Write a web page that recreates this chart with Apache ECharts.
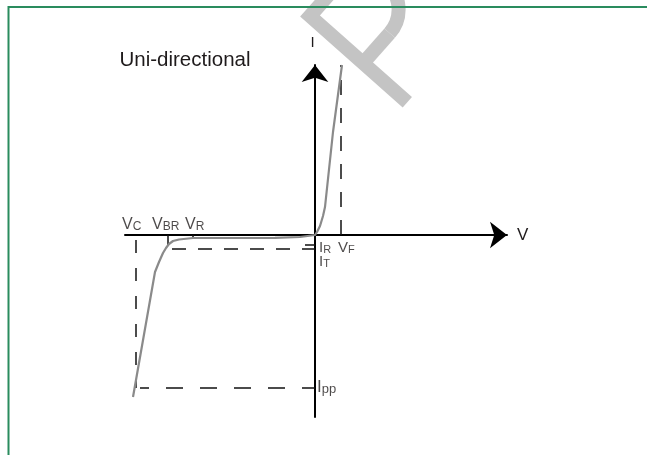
<!DOCTYPE html>
<html>
<head>
<meta charset="utf-8">
<script src="https://cdn.jsdelivr.net/npm/echarts@6/dist/echarts.min.js"></script>
<style>
html, body { margin: 0; padding: 0; background: #fff; }
#chart { width: 647px; height: 455px; }
</style>
</head>
<body>
<div id="chart"></div>
<script>
// I-V curve of a uni-directional TVS diode, in the drawing's own V / I units
const curveV = [-18.2, -16.0, -15.6, -15.2, -14.9, -14.6, -14.2, -13.6, -12.2, -8.0, -4.0, -1.5, 0, 0.2, 0.5, 0.8, 1.0, 1.8, 2.7]
const curveI = [-16.2, -3.7, -2.7, -1.8, -1.3, -0.9, -0.6, -0.45, -0.3, -0.3, -0.28, -0.2, 0, 0.3, 0.9, 1.9, 2.8, 10.3, 17.0]

// characteristic points
const VC = -17.9
const VBR = -14.7
const VR = -12.2
const VF = 2.6
const IR = -1.0
const IT = -1.4
const IPP = -15.3

// guide lines (dashed) and ticks
const vfLineI = [0, 17.0]
const vcLineI = [-0.5, IPP]
const ippLineV = [-17.5, 0]
const itLineV = [-14.3, 0]
const irLineV = [-1.0, 0]
const vbrTickI = [0, -1.0]
const vrTickI = [0, -0.3]

// labels: main letter + subscript, anchored on the characteristic points
const labelMain = ['V', 'V', 'V', 'I', 'V', 'I', 'I']
const labelSub = ['C', 'BR', 'R', 'R', 'F', 'T', 'pp']
const labelV = [VC, VBR, VR, 0, VF, 0, 0]
const labelI = [0, 0, 0, IR, 0, IT, IPP]

// [dx, dy, verticalAlign, main size, sub size]
const labelPlace = [
    [-13, -1, 'bottom', 16, 12],
    [-15, -1, 'bottom', 16, 12],
    [-7, -1, 'bottom', 16, 12],
    [5, -4, 'top', 15, 11],
    [-2, 6, 'top', 15, 11],
    [5, 6, 'top', 15, 11],
    [3, -8, 'top', 17, 13],
]

const ink = '#1f1b1c'
const font = 'Liberation Sans, Arial, sans-serif'

const chart = echarts.init(document.getElementById('chart'))

const pairs = (xs, ys) => xs.map((x, k) => [x, ys[k]])

const seg = (name, xs, ys, dash, offset, width) => ({
    type: 'line',
    name,
    data: pairs(xs, ys),
    symbol: 'none',
    silent: true,
    z: 3,
    lineStyle: { color: '#111', width: width || 1.5, type: dash, dashOffset: offset || 0 },
})

chart.setOption({
    animation: false,
    backgroundColor: '#fff',
    textStyle: { fontFamily: font },
    grid: { left: 125, right: 140, top: 65, bottom: 38 },
    xAxis: {
        type: 'value',
        min: -19,
        max: 19.2,
        name: 'V',
        nameLocation: 'end',
        nameGap: 10,
        nameTextStyle: { fontSize: 17, color: ink, fontFamily: font },
        axisLine: {
            onZero: true,
            symbol: ['none', 'arrow'],
            symbolSize: [20, 17],
            lineStyle: { color: '#000', width: 2 },
        },
        axisTick: { show: false },
        axisLabel: { show: false },
        splitLine: { show: false },
    },
    yAxis: {
        type: 'value',
        min: -18.2,
        max: 17.0,
        name: 'I',
        nameLocation: 'end',
        nameGap: 15,
        nameTextStyle: { fontSize: 15, color: ink, fontFamily: font, padding: [0, 5, 0, 0] },
        axisLine: {
            onZero: true,
            symbol: ['none', 'arrow'],
            symbolSize: [20, 17],
            lineStyle: { color: '#000', width: 2 },
        },
        axisTick: { show: false },
        axisLabel: { show: false },
        splitLine: { show: false },
    },
    graphic: [
        {
            type: 'rect',
            z: 1,
            silent: true,
            shape: { x: 8.5, y: 7, width: 700, height: 500 },
            style: { fill: 'none', stroke: '#2a8c5e', lineWidth: 2 },
        },
        {
            type: 'text',
            left: 119.5,
            top: 50,
            silent: true,
            style: { text: 'Uni-directional', font: '20.5px ' + font, fill: ink },
        },
        {
            // watermark letter
            type: 'group',
            x: 310,
            y: 16,
            rotation: 0.846,
            z: 100,
            silent: true,
            children: [
                {
                    type: 'polyline',
                    shape: { points: [[40, 0], [0, 0], [0, 130]] },
                    style: { stroke: '#c4c4c4', lineWidth: 14, fill: 'none', lineJoin: 'miter' },
                },
                {
                    type: 'line',
                    shape: { x1: 0, y1: 71, x2: 40, y2: 71 },
                    style: { stroke: '#c4c4c4', lineWidth: 14 },
                },
                {
                    type: 'arc',
                    shape: { cx: 40, cy: 35.5, r: 35.5, startAngle: -Math.PI / 2, endAngle: Math.PI / 2, clockwise: true },
                    style: { stroke: '#c4c4c4', lineWidth: 14, fill: 'none' },
                },
            ],
        },
    ],
    series: [
        {
            type: 'line',
            name: 'curve',
            data: pairs(curveV, curveI),
            symbol: 'none',
            smooth: false,
            z: 4,
            lineStyle: { color: '#8a8a8a', width: 2.2, join: 'round' },
        },
        seg('VF', [VF, VF], vfLineI, [15, 13], 0),
        seg('VC', [VC, VC], vcLineI, [13, 15], 0),
        seg('Ipp', ippLineV, [IPP, IPP], [17, 17], 8),
        seg('IT', itLineV, [IT, IT], [14, 12], 0),
        seg('IR', irLineV, [IR, IR], 'solid', 0),
        seg('VBR tick', [VBR, VBR], vbrTickI, 'solid', 0, 1.5),
        seg('VR tick', [VR, VR], vrTickI, 'solid', 0, 1.5),
        {
            type: 'scatter',
            name: 'labels',
            symbolSize: 2,
            silent: true,
            itemStyle: { color: 'rgba(0,0,0,0)' },
            z: 5,
            data: labelMain.map((m, k) => {
                const p = labelPlace[k]
                return {
                    value: [labelV[k], labelI[k]],
                    label: {
                        show: true,
                        position: [p[0], p[1]],
                        align: 'left',
                        verticalAlign: p[2],
                        color: ink,
                        fontSize: p[3],
                        fontFamily: font,
                        formatter: '{m|' + m + '}{s|' + labelSub[k] + '}',
                        rich: {
                            m: { fontSize: p[3], lineHeight: p[3], verticalAlign: 'bottom', color: ink, fontFamily: font },
                            s: { fontSize: p[4], lineHeight: p[4], verticalAlign: 'bottom', color: ink, fontFamily: font },
                        },
                    },
                }
            }),
        },
    ],
})
</script>
</body>
</html>
